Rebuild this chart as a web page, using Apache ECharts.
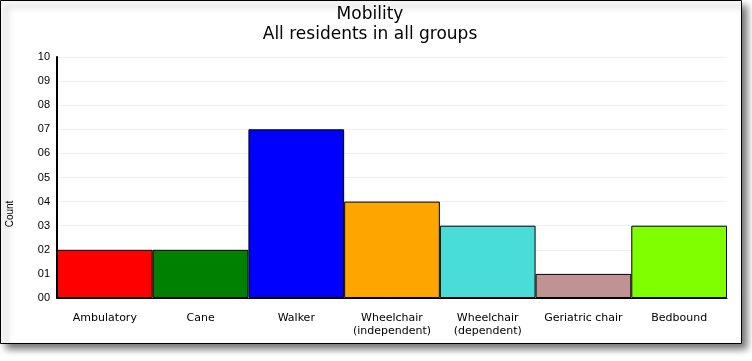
<!DOCTYPE html>
<html><head><meta charset="utf-8">
<script src="https://cdn.jsdelivr.net/npm/echarts@6/dist/echarts.min.js"></script>
<style>html,body{margin:0;padding:0;background:#fff}#c{width:752px;height:361px}</style>
</head><body><div id="c"></div>
<script>
const titleText = "Mobility";
const subtitleText = "All residents in all groups";
const yAxisName = "Count";
const categories = ["Ambulatory","Cane","Walker","Wheelchair\n(independent)","Wheelchair\n(dependent)","Geriatric chair","Bedbound"];
const counts = [2,2,7,4,3,1,3];
const barColors = ["#ff0000","#008000","#0000ff","#ffa500","#48ddd6","#c09292","#80ff00"];

const chart = echarts.init(document.getElementById('c'));
chart.setOption({
  animation:false,
  backgroundColor:'#fff',
  title:{
    text: titleText + "\n" + subtitleText,
    left: 370, textAlign:'center', top: 5, padding:0,
    textStyle:{fontFamily:'DejaVu Sans', fontSize:17, fontWeight:'normal', color:'#000', lineHeight:20}
  },
  graphic:[
    {type:'rect', z:-10, shape:{x:0.5,y:0.5,width:741,height:343},
     style:{fill:'#fff', stroke:'#000', lineWidth:1, shadowBlur:7, shadowOffsetX:5, shadowOffsetY:5, shadowColor:'rgba(0,0,0,0.55)'}},
    {type:'text', z:10, x:5, y:214, rotation:Math.PI/2,
     style:{text:yAxisName, fontFamily:'Liberation Sans', fontSize:10, fill:'#000', textAlign:'center', textVerticalAlign:'top'}}
  ],
  grid:{left:57, right:25, top:57, bottom:63, containLabel:false},
  xAxis:{
    type:'category', data:categories,
    axisLine:{show:true, lineStyle:{color:'#000', width:1}},
    axisTick:{show:false},
    axisLabel:{fontFamily:'DejaVu Sans', fontSize:11, color:'#000', margin:14, lineHeight:13, interval:0}
  },
  yAxis:{
    type:'value', min:0, max:10, interval:1,
    axisLine:{show:true, lineStyle:{color:'#000', width:2}},
    axisTick:{show:false},
    splitLine:{show:true, lineStyle:{color:'#f0f0f0', width:1}},
    axisLabel:{fontFamily:'Liberation Sans', fontSize:11, color:'#000', margin:7,
      formatter:v=> (v<10?'0':'')+v}
  },
  series:[{
    type:'bar', barCategoryGap:0,
    data: counts.map((v,i)=>({value:v, itemStyle:{color:barColors[i]}})),
    itemStyle:{borderColor:'#000', borderWidth:1}
  }]
});
</script></body></html>
